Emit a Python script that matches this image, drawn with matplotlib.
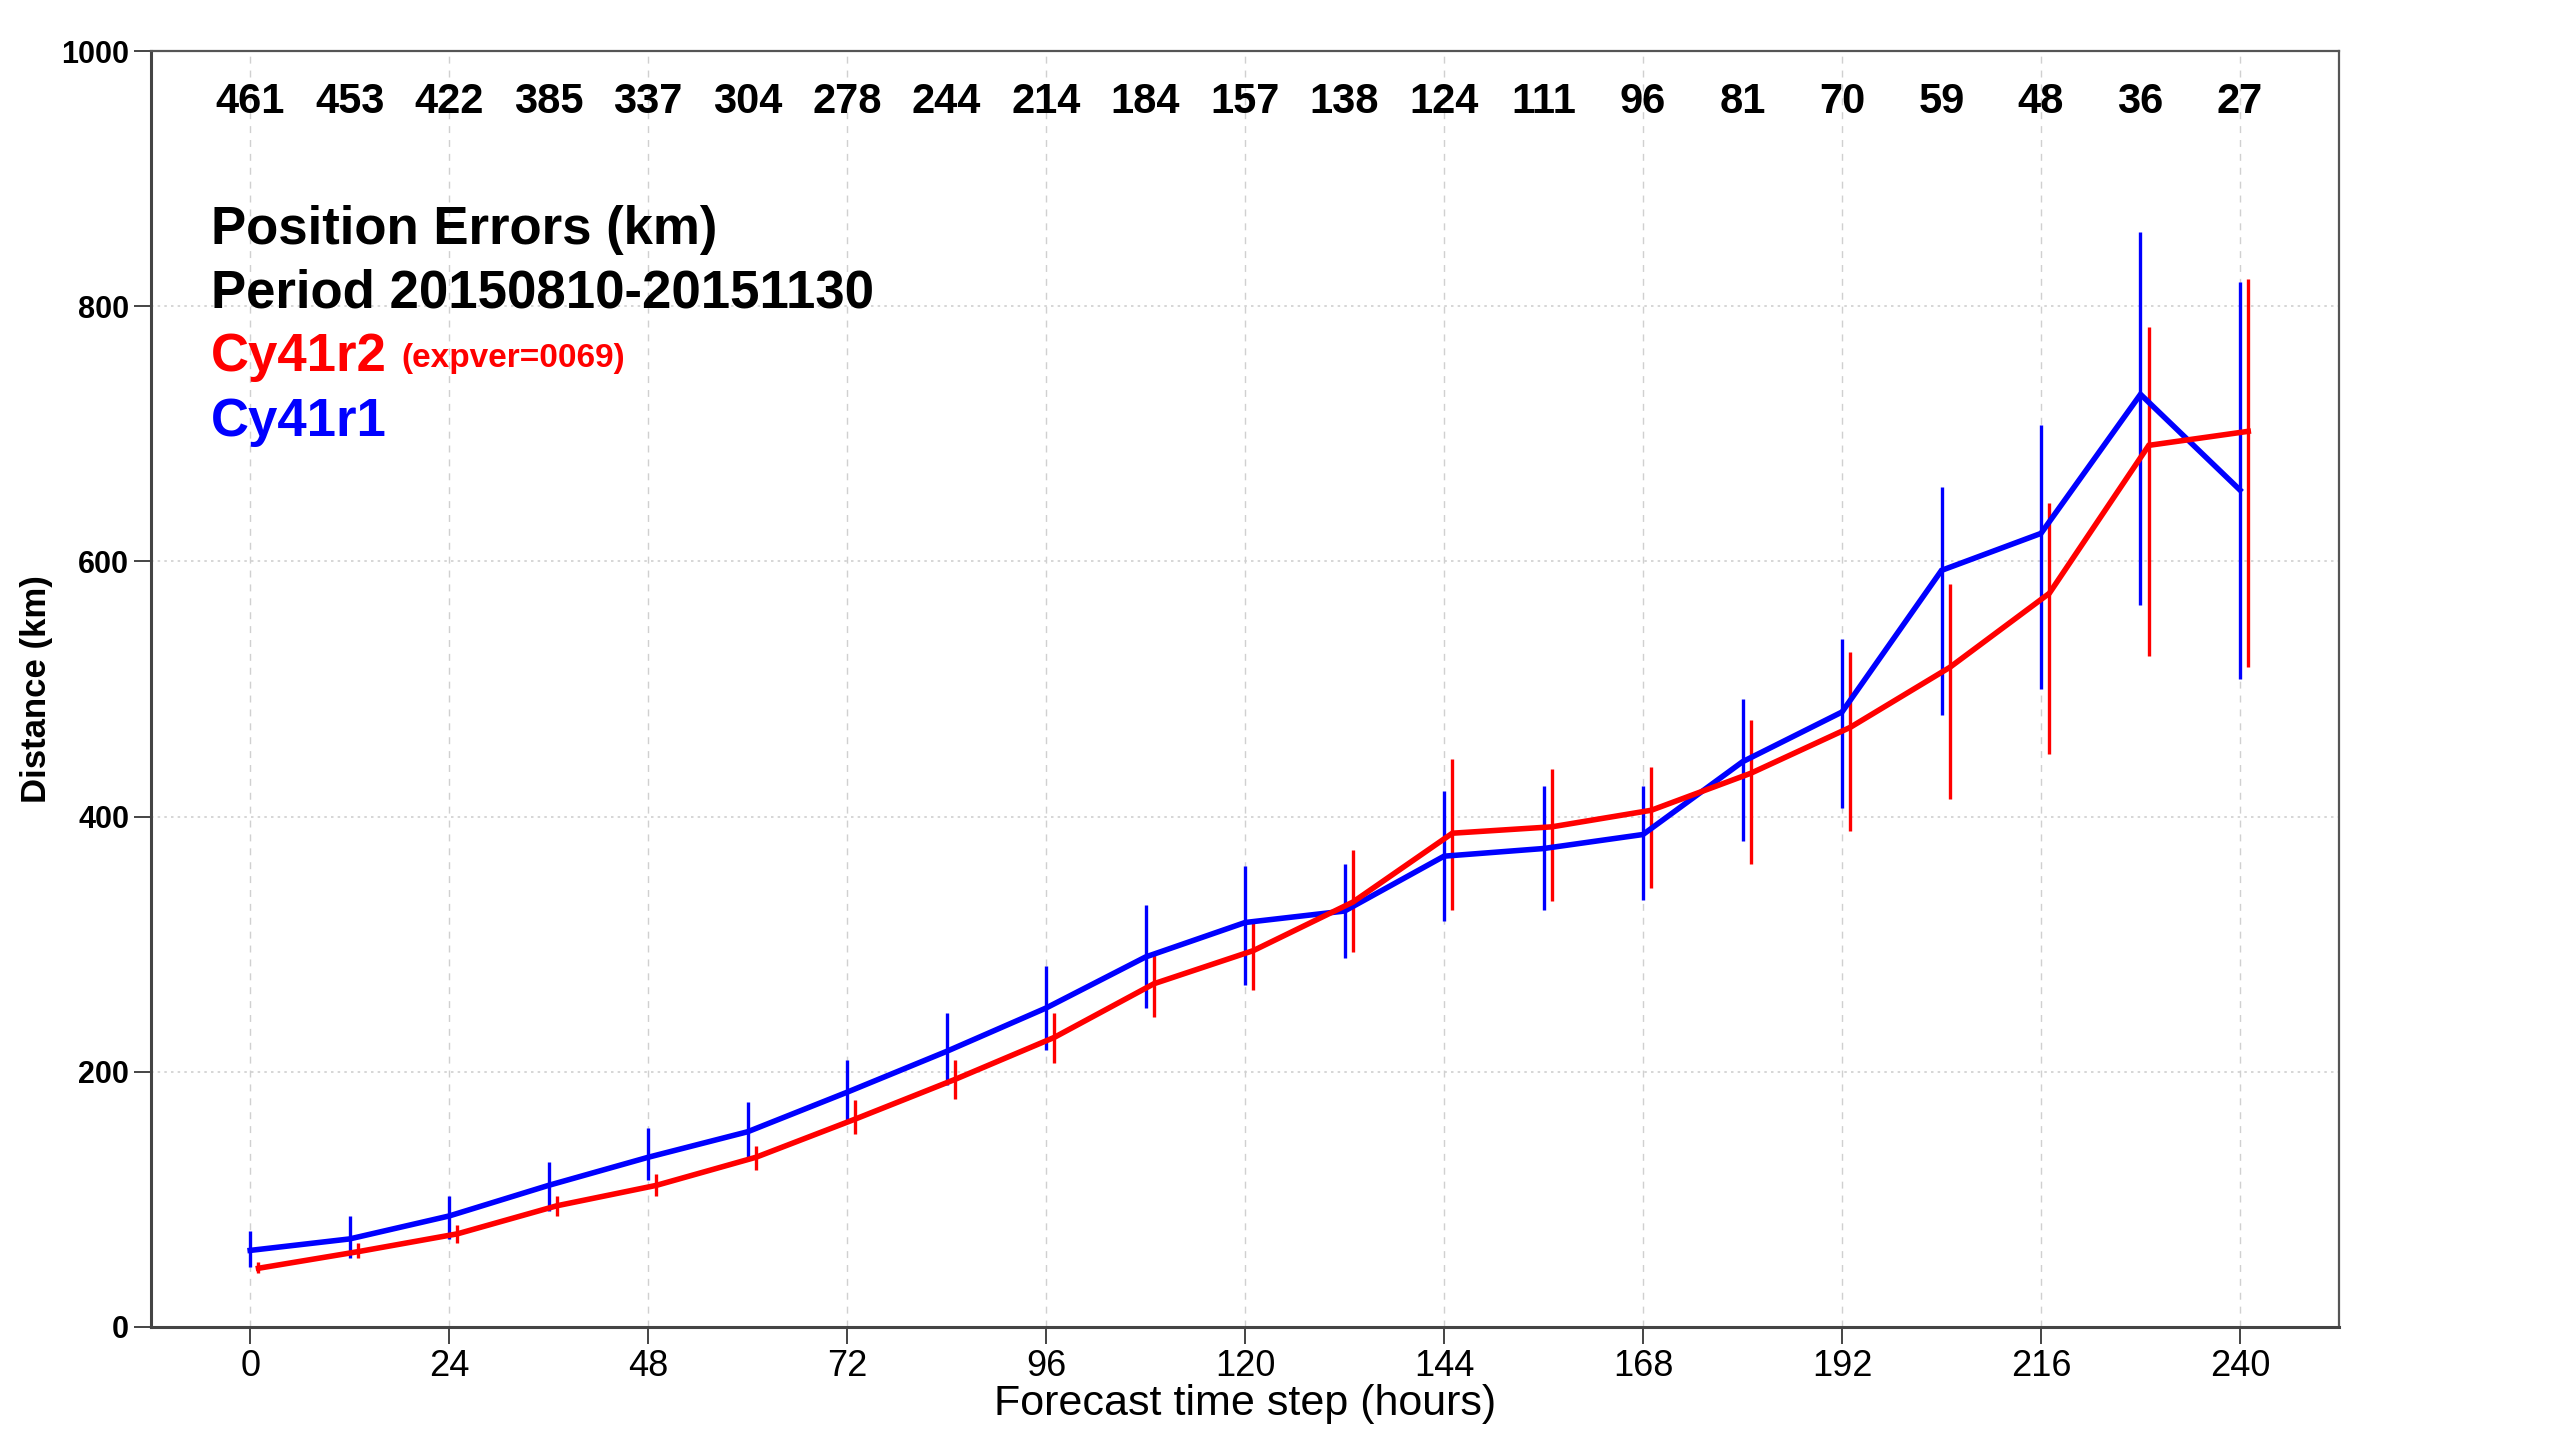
"""
Position errors (km) by forecast step, Cy41r2 vs Cy41r1, with error bars
and sample counts along the top.
"""
import matplotlib
matplotlib.use("Agg")
import matplotlib.pyplot as plt

NARROW = ["Liberation Sans Narrow", "Liberation Sans", "DejaVu Sans"]

steps = [0, 12, 24, 36, 48, 60, 72, 84, 96, 108, 120, 132, 144, 156, 168,
         180, 192, 204, 216, 228, 240]
counts = [461, 453, 422, 385, 337, 304, 278, 244, 214, 184, 157, 138, 124,
          111, 96, 81, 70, 59, 48, 36, 27]

# Cy41r1 (blue)
r1_mean = [60, 69, 87, 111, 133, 153, 184, 216, 250, 290, 317, 326, 369,
           375, 386, 443, 482, 593, 622, 731, 656]
r1_low = [47, 54, 69, 91, 115, 133, 161, 190, 217, 250, 268, 289, 318,
          327, 335, 381, 407, 480, 500, 566, 508]
r1_high = [75, 87, 103, 129, 156, 176, 209, 246, 283, 331, 361, 363, 420,
           424, 424, 492, 539, 658, 707, 858, 819]

# Cy41r2 (red), plotted 1 h to the right
r2_mean = [46, 59, 73, 95, 111, 133, 163, 194, 227, 269, 295, 333, 387,
           392, 405, 434, 470, 517, 575, 691, 702]
r2_low = [42, 54, 66, 87, 103, 123, 151, 179, 207, 243, 264, 294, 327,
          334, 344, 363, 389, 414, 449, 526, 517]
r2_high = [51, 66, 80, 103, 120, 142, 178, 209, 246, 293, 317, 374, 445,
           437, 439, 476, 529, 582, 646, 784, 821]

RED = "#ff0000"
BLUE = "#0000ff"

fig = plt.figure(figsize=(25.54, 14.4), dpi=100)
ax = fig.add_axes([0.059, 0.0785, 0.857, 0.886])

r2_x = [s + 1 for s in steps]
ax.vlines(steps, r1_low, r1_high, color=BLUE, lw=2.4, zorder=3)
ax.vlines(r2_x, r2_low, r2_high, color=RED, lw=2.4, zorder=4)
ax.plot(steps, r1_mean, color=BLUE, lw=4.0, zorder=5, solid_joinstyle="miter")
ax.plot(r2_x, r2_mean, color=RED, lw=4.0, zorder=6, solid_joinstyle="miter")

ax.set_xlim(-12, 252)
ax.set_ylim(0, 1000)
ax.set_xticks(range(0, 241, 24))
ax.set_yticks(range(0, 1001, 200))

for x in range(0, 241, 24):
    ax.axvline(x, color="#d0d0d0", lw=1.0, ls=(0, (5, 5)), zorder=0)
for y in range(200, 1000, 200):
    ax.axhline(y, color="#d0d0d0", lw=1.2, ls=(0, (1.5, 2.5)), zorder=0)

for side in ["top", "right"]:
    ax.spines[side].set_color("#555555")
    ax.spines[side].set_linewidth(1.6)
for side in ["left", "bottom"]:
    ax.spines[side].set_color("#444444")
    ax.spines[side].set_linewidth(2.2)

ax.tick_params(axis="both", direction="out", length=12, width=1.4, color="#444444")
ax.tick_params(axis="x", pad=4)
for lbl in ax.get_xticklabels():
    lbl.set_family(NARROW)
    lbl.set_fontsize(26)
for lbl in ax.get_yticklabels():
    lbl.set_family(NARROW)
    lbl.set_fontsize(22)
    lbl.set_fontweight("bold")

ax.set_xlabel("Forecast time step (hours)", family=NARROW, fontsize=31, labelpad=0)
ax.set_ylabel("Distance (km)", family=NARROW, fontsize=25, fontweight="bold", labelpad=6)

for s, n in zip(steps, counts):
    ax.text(s, 960, str(n), ha="center", va="center", family=NARROW,
            fontsize=30, fontweight="bold", zorder=7)

ax.text(-4.7, 860, "Position Errors (km)", ha="left", va="center",
        family=NARROW, fontsize=38, fontweight="bold")
ax.text(-4.7, 810, "Period 20150810-20151130", ha="left", va="center",
        family=NARROW, fontsize=38, fontweight="bold")
t1 = ax.text(-4.7, 760, "Cy41r2", ha="left", va="center", color=RED,
             family=NARROW, fontsize=38, fontweight="bold")
ax.annotate("(expver=0069)", xy=(1, 0), xycoords=t1, xytext=(10, 6),
            textcoords="offset points", ha="left", va="bottom", color=RED,
            family=NARROW, fontsize=24, fontweight="bold")
ax.text(-4.7, 709, "Cy41r1", ha="left", va="center", color=BLUE,
        family=NARROW, fontsize=38, fontweight="bold")

fig.savefig("out.png", dpi=100, facecolor="white")
